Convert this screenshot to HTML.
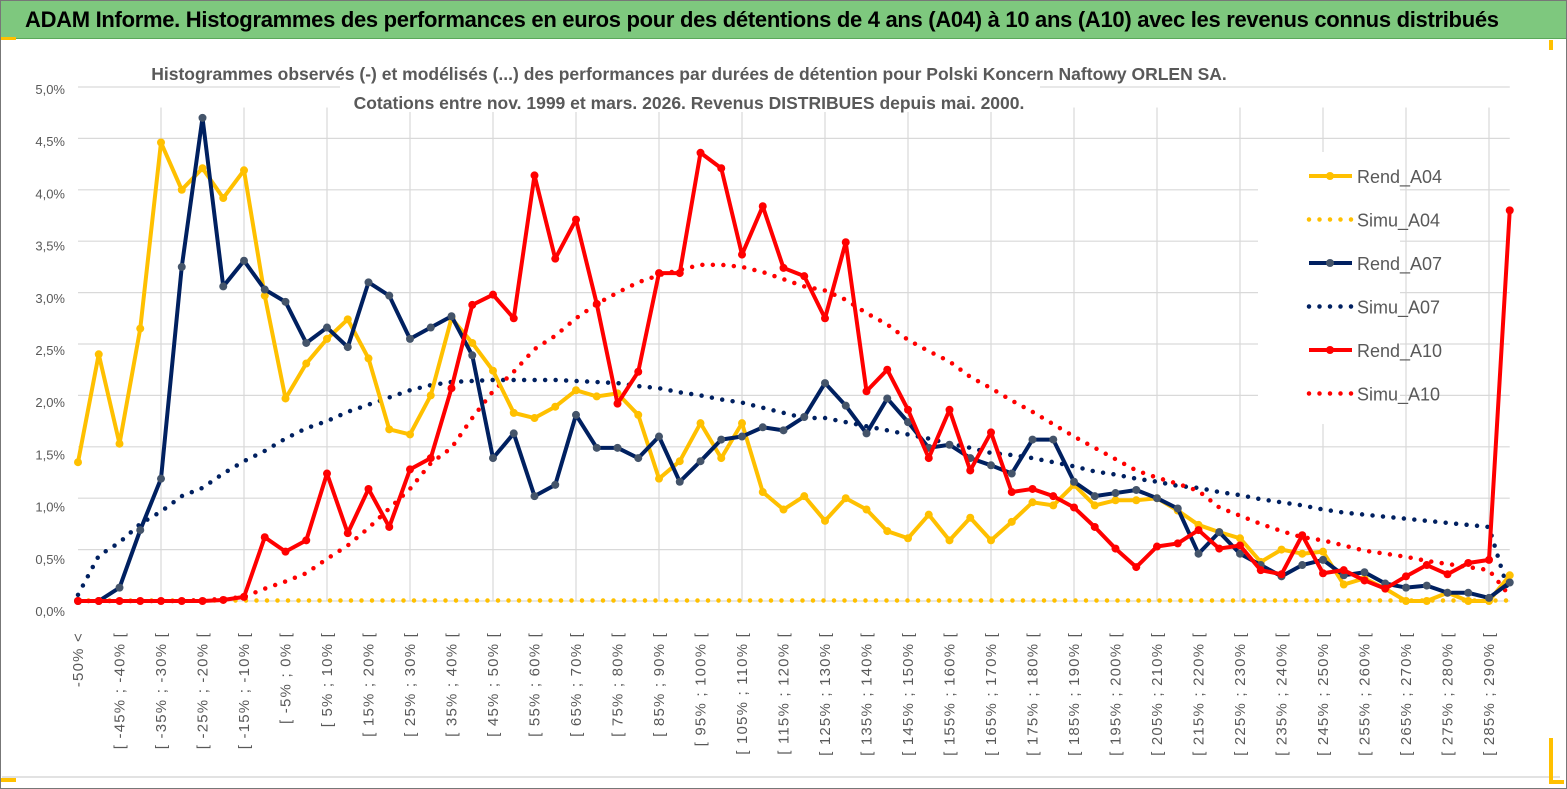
<!DOCTYPE html>
<html><head><meta charset="utf-8"><style>
body{margin:0;width:1567px;height:789px;overflow:hidden;background:#fff;font-family:"Liberation Sans",sans-serif}
#frame{position:absolute;left:0;top:0;width:1565px;height:787px;border:1px solid #777}
#banner{position:absolute;left:1px;top:1px;width:1565px;height:37px;background:#7ec87e;border-bottom:1px solid #5aa85a}
#banner span{position:absolute;left:24px;top:6px;font-weight:bold;font-size:22px;color:#000;letter-spacing:-0.3px;white-space:nowrap;font-family:"Liberation Sans Narrow","Liberation Sans",sans-serif}
</style></head><body>
<div id="frame"></div>
<div id="banner"><span>ADAM Informe. Histogrammes des performances en euros pour des détentions de 4 ans (A04) à 10 ans (A10) avec les revenus connus distribués</span></div>
<svg id="chart" width="1567" height="789" style="position:absolute;left:0;top:0"></svg>
<script>
const categoriesCount = 70;
const yTicks = ["0,0%","0,5%","1,0%","1,5%","2,0%","2,5%","3,0%","3,5%","4,0%","4,5%","5,0%"];
const rendA04 = [1.35,2.40,1.53,2.65,4.46,4.00,4.21,3.92,4.19,2.97,1.97,2.31,2.55,2.74,2.36,1.67,1.62,2.00,2.75,2.51,2.24,1.83,1.78,1.89,2.05,1.99,2.02,1.81,1.19,1.36,1.73,1.39,1.73,1.06,0.89,1.02,0.78,1.00,0.89,0.68,0.61,0.84,0.59,0.81,0.59,0.77,0.96,0.93,1.13,0.93,0.98,0.98,1.00,0.88,0.74,0.67,0.61,0.38,0.50,0.46,0.48,0.16,0.22,0.12,0.00,0.00,0.08,0.00,0.00,0.25];
const simuA04 = new Array(70).fill(0.005);
const rendA07 = [0.00,0.00,0.13,0.69,1.19,3.25,4.70,3.06,3.31,3.03,2.91,2.51,2.66,2.47,3.10,2.97,2.55,2.66,2.77,2.39,1.39,1.63,1.02,1.13,1.81,1.49,1.49,1.39,1.60,1.16,1.36,1.57,1.60,1.69,1.66,1.79,2.12,1.90,1.63,1.97,1.74,1.49,1.52,1.39,1.32,1.24,1.57,1.57,1.16,1.02,1.05,1.08,1.00,0.90,0.46,0.67,0.46,0.35,0.24,0.35,0.40,0.25,0.28,0.17,0.13,0.15,0.08,0.08,0.03,0.18];
const simuA07 = [0.06,0.44,0.57,0.75,0.87,1.02,1.10,1.24,1.36,1.46,1.58,1.68,1.75,1.84,1.91,1.98,2.05,2.10,2.13,2.14,2.15,2.15,2.15,2.15,2.14,2.13,2.12,2.09,2.07,2.03,2.00,1.96,1.93,1.88,1.83,1.78,1.78,1.74,1.70,1.66,1.62,1.58,1.53,1.49,1.44,1.42,1.39,1.35,1.31,1.26,1.23,1.19,1.16,1.12,1.10,1.06,1.03,0.99,0.96,0.93,0.89,0.86,0.84,0.82,0.80,0.78,0.76,0.74,0.72,0.05];
const rendA10 = [0,0,0,0,0,0,0,0.01,0.04,0.62,0.48,0.59,1.24,0.66,1.09,0.72,1.28,1.39,2.07,2.88,2.98,2.75,4.14,3.33,3.71,2.89,1.92,2.23,3.19,3.19,4.36,4.21,3.37,3.84,3.24,3.16,2.75,3.49,2.04,2.25,1.86,1.39,1.86,1.27,1.64,1.06,1.09,1.02,0.91,0.72,0.51,0.33,0.53,0.56,0.69,0.51,0.54,0.30,0.26,0.64,0.27,0.30,0.20,0.12,0.24,0.35,0.26,0.37,0.40,3.80];
const simuA10 = [0,0,0,0,0,0,0.01,0.02,0.04,0.12,0.19,0.27,0.41,0.54,0.71,0.90,1.09,1.34,1.49,1.78,2.04,2.23,2.45,2.58,2.75,2.89,3.00,3.10,3.17,3.22,3.27,3.27,3.25,3.20,3.13,3.06,3.02,2.93,2.80,2.69,2.54,2.43,2.33,2.18,2.07,1.95,1.84,1.72,1.60,1.49,1.38,1.27,1.20,1.14,1.07,0.91,0.83,0.75,0.68,0.62,0.59,0.54,0.49,0.46,0.43,0.39,0.36,0.33,0.30,0.05];

const NS="http://www.w3.org/2000/svg";
const svg=document.getElementById('chart');
const X0=78, DX=20.75, Y0=601, PY=102.8;
const xs=i=>X0+i*DX;
const ys=v=>Y0-v*PY;
function mk(tag,attrs,parent){const e=document.createElementNS(NS,tag);for(const k in attrs)e.setAttribute(k,attrs[k]);(parent||svg).appendChild(e);return e;}
function label(i){if(i===0)return "-50% <";const a=-50+5*(i-1);return "[ "+a+"% ; "+(a+5)+"% ["}

// grid
const grid=mk('g',{});


for(let k=0;k<yTicks.length;k++){
  const y=ys(k*0.5);
  const l=mk('line',{x1:X0,x2:X0+69*DX,y1:y,y2:y,stroke:'#d9d9d9','stroke-width':1.2},grid);
  
  
  const t=mk('text',{x:65,y:611-k*52.2+5,'text-anchor':'end','font-size':13,fill:'#595959'});
  t.textContent=yTicks[k];
  
  
}
for(let i=4;i<categoriesCount;i+=4){
  const l=mk('line',{x1:xs(i),x2:xs(i),y1:ys(4.8),y2:Y0,stroke:'#d9d9d9','stroke-width':1.2},grid);
  
  
}
// x labels
for(let i=0;i<categoriesCount;i+=2){
  const t=mk('text',{transform:`translate(${xs(i)+5},632) rotate(-90)`,'text-anchor':'end','font-size':15,'letter-spacing':1.2,fill:'#595959'});
  t.textContent=label(i);
  
  
}
// title
const titleLines=["Histogrammes observés (-) et modélisés (...)  des performances par durées de détention pour Polski Koncern Naftowy ORLEN SA.","Cotations entre nov. 1999 et mars. 2026. Revenus DISTRIBUES depuis mai. 2000."];
titleLines.forEach((s,k)=>{
  mk('rect',{x:k?340:150,y:k?86:58,width:k?700:1080,height:26,fill:'#fff'});
  const t=mk('text',{x:689,y:80+k*29,'text-anchor':'middle','font-size':17.5,'font-weight':'bold',fill:'#595959','font-family':'"Liberation Sans Narrow","Liberation Sans",sans-serif'});
  t.textContent=s;
  
  
});
// series
function series(data,color,dotted,markerColor,name){
  const g=mk('g',{});
  
  
  const pts=data.map((v,i)=>xs(i)+','+ys(v)).join(' ');
  if(dotted){
    const p=mk('polyline',{points:pts,fill:'none',stroke:color,'stroke-width':4.5,'stroke-linecap':'round','stroke-dasharray':'0 10.5'},g);
    
    
  } else {
    const p=mk('polyline',{points:pts,fill:'none',stroke:color,'stroke-width':4,'stroke-linejoin':'round'},g);
    
    
    data.forEach((v,i)=>{
      const c=mk('circle',{cx:xs(i),cy:ys(v),r:4,fill:markerColor},g);
      
      
    });
  }
}
series(simuA04,'#ffc000',true,null,'simu-a04');
series(simuA07,'#002060',true,null,'simu-a07');
series(simuA10,'#ff0000',true,null,'simu-a10');
series(rendA04,'#ffc000',false,'#ffc000','rend-a04');
series(rendA07,'#002060',false,'#44546a','rend-a07');
series(rendA10,'#ff0000',false,'#ff0000','rend-a10');

// legend
const legend=[["Rend_A04",'#ffc000',false,'#ffc000'],["Simu_A04",'#ffc000',true],["Rend_A07",'#002060',false,'#44546a'],["Simu_A07",'#002060',true],["Rend_A10",'#ff0000',false,'#ff0000'],["Simu_A10",'#ff0000',true]];
const lg=mk('g',{});


mk('rect',{x:1258,y:152,width:142,height:272,fill:'#fff'},lg);
legend.forEach((e,k)=>{
  const y=176+k*43.5;
  const g=mk('g',{},lg);
  
  
  if(e[2]) mk('line',{x1:1309,x2:1352,y1:y,y2:y,stroke:e[1],'stroke-width':4.5,'stroke-linecap':'round','stroke-dasharray':'0 10.5'},g);
  else {mk('line',{x1:1309,x2:1352,y1:y,y2:y,stroke:e[1],'stroke-width':4},g);mk('circle',{cx:1330,cy:y,r:4,fill:e[3]},g);}
  const t=mk('text',{x:1357,y:y+7,'font-size':18,fill:'#595959','font-family':'"Liberation Sans Narrow","Liberation Sans",sans-serif'},g);
  t.textContent=e[0];
});
// bottom decorations
mk('line',{x1:2,x2:1560,y1:777,y2:777,stroke:'#d9d9d9','stroke-width':1.5});
mk('rect',{x:1,y:778,width:15,height:4,fill:'#ffc000'});
mk('rect',{x:1,y:37,width:15,height:3,fill:'#ffc000'});
mk('rect',{x:1549,y:738,width:4,height:45,fill:'#ffc000'});
mk('rect',{x:1549,y:780,width:15,height:4,fill:'#ffc000'});
mk('rect',{x:1549,y:40,width:4,height:10,fill:'#ffc000'});
</script>
</body></html>
